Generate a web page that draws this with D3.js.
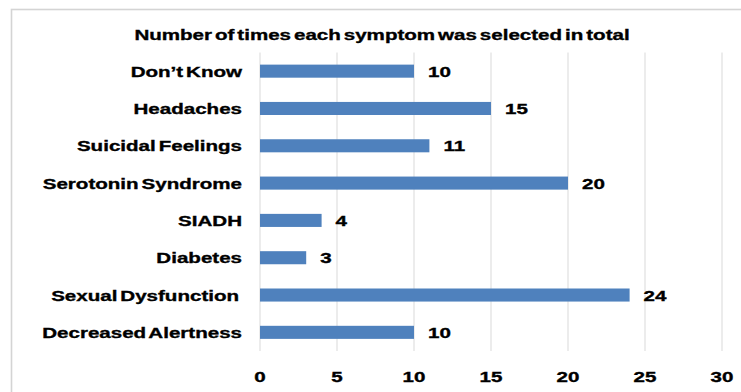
<!DOCTYPE html>
<html>
<head>
<meta charset="utf-8">
<script src="https://cdn.jsdelivr.net/npm/d3@7"></script>
<style>
  html, body { margin: 0; padding: 0; background: #fff; }
  svg { display: block; }
  text { font-family: "Liberation Sans", Arial, sans-serif; font-weight: bold; fill: #000; stroke: #000; stroke-width: 0.35px; white-space: pre; word-spacing: -2px; }
</style>
</head>
<body>
<svg id="chart" width="741" height="392"></svg>
<script>
const title = "Number of times each symptom was selected in total";
const categories = ["Don\u2019t Know", "Headaches", "Suicidal Feelings", "Serotonin Syndrome", "SIADH", "Diabetes", "Sexual Dysfunction ", "Decreased Alertness"];
const values = [10, 15, 11, 20, 4, 3, 24, 10];
const tickValues = [0, 5, 10, 15, 20, 25, 30];

const SX = 1.37;   // horizontal stretch of the reference's text
const FS = 15;

const svg = d3.select("#chart");

// outer chart border (extends past the window on right/bottom)
svg.append("rect")
  .attr("x", 11.5).attr("y", 9.5)
  .attr("width", 900).attr("height", 600)
  .attr("fill", "#fff")
  .attr("stroke", "#d4d4d4").attr("stroke-width", 1.6);

const x = d3.scaleLinear().domain([0, 30]).range([260, 722]);
const y = d3.scaleBand().domain(categories).range([52.5, 351])
  .paddingInner(0.65).paddingOuter(0.325);

function stretchedText(sel, tx, ty, anchor) {
  return sel.attr("transform", (d, i) => `translate(${tx(d, i)},${ty(d, i)}) scale(${SX},1)`)
    .attr("text-anchor", anchor)
    .style("font-size", FS + "px");
}

// title
svg.append("text").datum(title)
  .call(s => stretchedText(s, () => 382, () => 39.5, "middle"))
  .text(d => d);

// gridlines
svg.append("g").selectAll("line").data(tickValues).join("line")
  .attr("x1", d => x(d)).attr("x2", d => x(d))
  .attr("y1", 52.5).attr("y2", 351)
  .attr("stroke", "#d9d9d9").attr("stroke-width", 1);

// bars
svg.append("g").selectAll("rect").data(values).join("rect")
  .attr("x", x(0))
  .attr("y", (d, i) => y(categories[i]))
  .attr("width", d => x(d) - x(0))
  .attr("height", y.bandwidth())
  .attr("fill", "#4f81bd");

// value labels
svg.append("g").selectAll("text").data(values).join("text")
  .call(s => stretchedText(s, d => x(d) + 14, (d, i) => y(categories[i]) + y.bandwidth() / 2 + 5.5, "start"))
  .text(d => d);

// category labels
svg.append("g").selectAll("text").data(categories).join("text")
  .call(s => stretchedText(s, () => 242, d => y(d) + y.bandwidth() / 2 + 5.5, "end"))
  .text(d => d);

// x tick labels
svg.append("g").selectAll("text").data(tickValues).join("text")
  .call(s => stretchedText(s, d => x(d), () => 382, "middle"))
  .text(d => d);
</script>
</body>
</html>
